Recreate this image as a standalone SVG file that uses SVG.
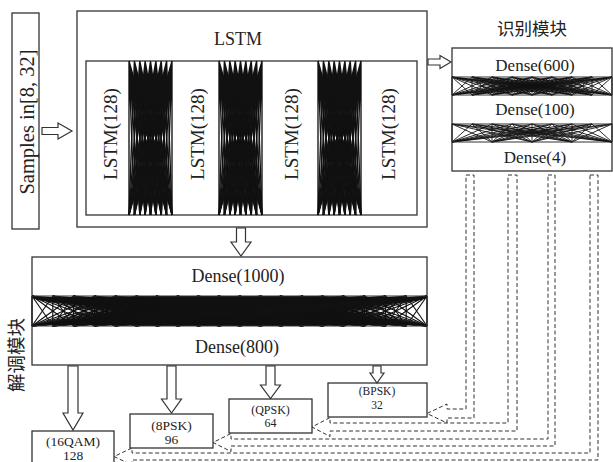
<svg xmlns="http://www.w3.org/2000/svg" xmlns:xlink="http://www.w3.org/1999/xlink" width="613" height="462" viewBox="0 0 613 462">
<style>
.box{fill:#fff;stroke:#333;stroke-width:1.3}
.ln{fill:none;stroke:#333;stroke-width:1.2}
.arr{fill:#fff;stroke:#333;stroke-width:1.2}
.dash{fill:none;stroke:#333;stroke-width:1;stroke-dasharray:4 2.5}
.net{fill:none;stroke:#111;stroke-width:0.9;vector-effect:non-scaling-stroke}
.netL{fill:none;stroke:#111;stroke-width:1.35;vector-effect:non-scaling-stroke}
.netD{fill:none;stroke:#111;stroke-width:1.15;vector-effect:non-scaling-stroke}
text{font-family:"Liberation Serif","Times New Roman",serif;fill:#222;text-anchor:middle}
.cjk{font-family:"Noto Sans CJK SC","Noto Sans CJK JP",sans-serif}
</style>
<defs>
<linearGradient id="gD" x1="0" y1="0" x2="1" y2="0">
<stop offset="0" stop-color="#141414" stop-opacity="0"/>
<stop offset="0.13" stop-color="#141414" stop-opacity="0"/>
<stop offset="0.3" stop-color="#141414" stop-opacity="1"/>
<stop offset="0.72" stop-color="#141414" stop-opacity="1"/>
<stop offset="0.86" stop-color="#141414" stop-opacity="0"/>
<stop offset="1" stop-color="#141414" stop-opacity="0"/>
</linearGradient>
<path id="fanL" class="netL" d="M0 0V154M0 0L5.4 154M0 0L10.8 154M0 0L16.1 154M0 0L21.5 154M0 0L26.9 154M0 0L32.3 154M0 0L37.6 154M0 0L43 154"/>
<g id="bandL">
<use xlink:href="#fanL"/>
<use xlink:href="#fanL" transform="matrix(1 0 -0.0349 1 5.375 0)"/>
<use xlink:href="#fanL" transform="matrix(1 0 -0.0698 1 10.75 0)"/>
<use xlink:href="#fanL" transform="matrix(1 0 -0.1047 1 16.125 0)"/>
<use xlink:href="#fanL" transform="matrix(1 0 -0.1396 1 21.5 0)"/>
<use xlink:href="#fanL" transform="matrix(1 0 -0.1745 1 26.875 0)"/>
<use xlink:href="#fanL" transform="matrix(1 0 -0.2094 1 32.25 0)"/>
<use xlink:href="#fanL" transform="matrix(1 0 -0.2443 1 37.625 0)"/>
<use xlink:href="#fanL" transform="matrix(1 0 -0.2792 1 43 0)"/>
</g>
<path id="fanD" class="netD" d="M0 0V30M0 0L20.8 30M0 0L41.6 30M0 0L62.4 30M0 0L83.2 30M0 0L103.9 30M0 0L124.7 30M0 0L145.5 30M0 0L166.3 30M0 0L187.1 30M0 0L207.9 30M0 0L228.7 30M0 0L249.5 30M0 0L270.3 30M0 0L291.1 30M0 0L311.8 30M0 0L332.6 30M0 0L353.4 30M0 0L374.2 30M0 0L395 30"/>
<path id="fanR1" class="net" d="M0 0V18M0 0L20 18M0 0L40 18M0 0L60 18M0 0L80 18M0 0L100 18M0 0L120 18M0 0L140 18M0 0L160 18"/>
<path id="fanR2" class="net" d="M0 0V18M0 0L40 18M0 0L80 18M0 0L120 18M0 0L160 18"/>
</defs>

<g id="samples">
<rect class="box" x="12" y="13" width="27" height="216"/>
<text font-size="20.5" transform="translate(26.5,122) rotate(-90)" dominant-baseline="central">Samples in[8, 32]</text>
</g>

<g id="lstm">
<rect class="box" x="77" y="11" width="350" height="216"/>
<text x="238" y="45" font-size="18">LSTM</text>
<rect class="box" x="86" y="61" width="331" height="154"/>
<use xlink:href="#bandL" transform="translate(129,61)"/>
<use xlink:href="#bandL" transform="translate(219,61)"/>
<use xlink:href="#bandL" transform="translate(318,61)"/>
<text font-size="19" transform="translate(110,134) rotate(-90)" dominant-baseline="central">LSTM(128)</text>
<text font-size="19" transform="translate(197,134) rotate(-90)" dominant-baseline="central">LSTM(128)</text>
<text font-size="19" transform="translate(291,134) rotate(-90)" dominant-baseline="central">LSTM(128)</text>
<text font-size="19" transform="translate(388,134) rotate(-90)" dominant-baseline="central">LSTM(128)</text>
</g>

<g id="recognition">
<text class="cjk" x="532" y="35" font-size="17.5">识别模块</text>
<rect class="box" x="452" y="48" width="160" height="123"/>
<g transform="translate(452,77)">
<use xlink:href="#fanR1"/>
<use xlink:href="#fanR1" transform="matrix(1 0 -1.1111 1 20 0)"/>
<use xlink:href="#fanR1" transform="matrix(1 0 -2.2222 1 40 0)"/>
<use xlink:href="#fanR1" transform="matrix(1 0 -3.3333 1 60 0)"/>
<use xlink:href="#fanR1" transform="matrix(1 0 -4.4444 1 80 0)"/>
<use xlink:href="#fanR1" transform="matrix(1 0 -5.5556 1 100 0)"/>
<use xlink:href="#fanR1" transform="matrix(1 0 -6.6667 1 120 0)"/>
<use xlink:href="#fanR1" transform="matrix(1 0 -7.7778 1 140 0)"/>
<use xlink:href="#fanR1" transform="matrix(1 0 -8.8889 1 160 0)"/>
</g>
<g transform="translate(452,124)">
<use xlink:href="#fanR2"/>
<use xlink:href="#fanR2" transform="matrix(1 0 -1.1111 1 20 0)"/>
<use xlink:href="#fanR2" transform="matrix(1 0 -2.2222 1 40 0)"/>
<use xlink:href="#fanR2" transform="matrix(1 0 -3.3333 1 60 0)"/>
<use xlink:href="#fanR2" transform="matrix(1 0 -4.4444 1 80 0)"/>
<use xlink:href="#fanR2" transform="matrix(1 0 -5.5556 1 100 0)"/>
<use xlink:href="#fanR2" transform="matrix(1 0 -6.6667 1 120 0)"/>
<use xlink:href="#fanR2" transform="matrix(1 0 -7.7778 1 140 0)"/>
<use xlink:href="#fanR2" transform="matrix(1 0 -8.8889 1 160 0)"/>
</g>
<path class="ln" d="M452 77H612M452 95H612M452 124H612M452 142H612"/>
<text x="535" y="71" font-size="17">Dense(600)</text>
<text x="535" y="115" font-size="17">Dense(100)</text>
<text x="535" y="163" font-size="17">Dense(4)</text>
</g>

<g id="demodulation">
<text class="cjk" font-size="18.5" transform="translate(15,355) rotate(-90)" dominant-baseline="central">解调模块</text>
<rect class="box" x="32" y="257" width="395" height="108"/>
<rect x="32" y="296" width="395" height="30" fill="url(#gD)"/>
<g transform="translate(32,296)">
<use xlink:href="#fanD"/>
<use xlink:href="#fanD" transform="matrix(1 0 -0.6930 1 20.79 0)"/>
<use xlink:href="#fanD" transform="matrix(1 0 -1.3860 1 41.58 0)"/>
<use xlink:href="#fanD" transform="matrix(1 0 -2.0790 1 62.37 0)"/>
<use xlink:href="#fanD" transform="matrix(1 0 -2.7720 1 83.16 0)"/>
<use xlink:href="#fanD" transform="matrix(1 0 -3.4650 1 103.95 0)"/>
<use xlink:href="#fanD" transform="matrix(1 0 -4.1580 1 124.74 0)"/>
<use xlink:href="#fanD" transform="matrix(1 0 -4.8510 1 145.53 0)"/>
<use xlink:href="#fanD" transform="matrix(1 0 -5.5440 1 166.32 0)"/>
<use xlink:href="#fanD" transform="matrix(1 0 -6.2370 1 187.11 0)"/>
<use xlink:href="#fanD" transform="matrix(1 0 -6.9300 1 207.89 0)"/>
<use xlink:href="#fanD" transform="matrix(1 0 -7.6230 1 228.68 0)"/>
<use xlink:href="#fanD" transform="matrix(1 0 -8.3160 1 249.47 0)"/>
<use xlink:href="#fanD" transform="matrix(1 0 -9.0090 1 270.26 0)"/>
<use xlink:href="#fanD" transform="matrix(1 0 -9.7020 1 291.05 0)"/>
<use xlink:href="#fanD" transform="matrix(1 0 -10.3950 1 311.84 0)"/>
<use xlink:href="#fanD" transform="matrix(1 0 -11.0880 1 332.63 0)"/>
<use xlink:href="#fanD" transform="matrix(1 0 -11.7810 1 353.42 0)"/>
<use xlink:href="#fanD" transform="matrix(1 0 -12.4740 1 374.21 0)"/>
<use xlink:href="#fanD" transform="matrix(1 0 -13.1667 1 395 0)"/>
</g>
<path class="ln" d="M32 296H427M32 326H427"/>
<text x="238" y="282" font-size="18">Dense(1000)</text>
<text x="237" y="353" font-size="18">Dense(800)</text>
</g>

<g id="out-16qam">
<rect class="box" x="32" y="431" width="82" height="40"/>
<text x="73" y="446" font-size="13.5">(16QAM)</text>
<text x="73" y="460" font-size="13.5">128</text>
</g>
<g id="out-8psk">
<rect class="box" x="130" y="414" width="83" height="34"/>
<text x="171.5" y="430" font-size="13.5">(8PSK)</text>
<text x="171.5" y="444" font-size="13.5">96</text>
</g>
<g id="out-qpsk">
<rect class="box" x="229" y="399" width="83" height="34"/>
<text x="270.5" y="414" font-size="12">(QPSK)</text>
<text x="270.5" y="427" font-size="12">64</text>
</g>
<g id="out-bpsk">
<rect class="box" x="328" y="383" width="99" height="34"/>
<text x="377" y="395" font-size="11.5">(BPSK)</text>
<text x="377" y="409" font-size="11.5">32</text>
</g>

<g id="connectors">
<polygon class="arr" points="42,127.5 58,127.5 58,123 72,131 58,139 58,134.5 42,134.5"/>
<polygon class="arr" points="428,59 440,59 440,55.5 451,62 440,68.5 440,65 428,65"/>
<polygon class="arr" points="236.5,228 245.5,228 245.5,242 251,242 241,256 231,242 236.5,242"/>
<polygon class="arr" points="68,366 78,366 78,413 83,413 73,430 63,413 68,413"/>
<polygon class="arr" points="167,366 176,366 176,399 181.5,399 171.5,413 161.5,399 167,399"/>
<polygon class="arr" points="266,366 275,366 275,385 280.5,385 270.5,398.5 260.5,385 266,385"/>
<polygon class="arr" points="373,366 381,366 381,373 384,373 377,383 370,373 373,373"/>
<path class="dash" d="M466 175H474V418H447V423L427 413.5L447 404V409H466Z"/>
<path class="dash" d="M508 175H517V431H330V436.5L312 427L330 417.5V423H508Z"/>
<path class="dash" d="M548 175H555V446H231V451.5L213 442.5L231 433.5V439H548Z"/>
<path class="dash" d="M590 175H598V460H132V465L114 456.5L132 448V453H590Z"/>
</g>
</svg>
